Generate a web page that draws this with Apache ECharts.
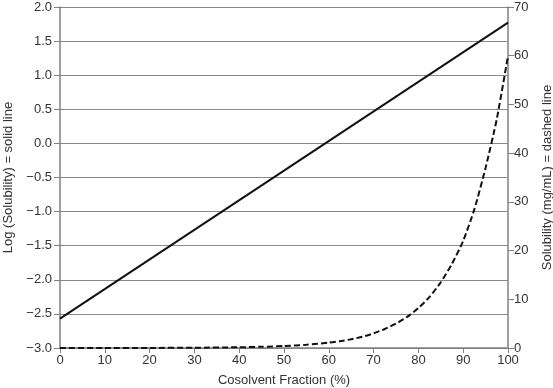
<!DOCTYPE html>
<html><head><meta charset="utf-8">
<script src="https://cdn.jsdelivr.net/npm/echarts@6/dist/echarts.min.js"></script>
<style>html,body{margin:0;padding:0;background:#fff}#c{width:553px;height:388px}</style>
</head><body><div id="c"></div>
<script>
const xTicks = [0,10,20,30,40,50,60,70,80,90,100];
const logX = [0, 100];
const logSolubility = [-2.57, 1.77];
const solX = [0,10,20,30,40,45,50,55,60,62.5,65,67.5,70,72.5,75,77.5,80,82.5,85,87.5,90,92.5,95,97.5,100];
const solubility = [0.003,0.01,0.02,0.05,0.15,0.25,0.4,0.66,1.1,1.4,1.8,2.3,3.0,3.9,5.0,6.4,8.2,10.5,13.5,17.3,22,28.5,37,47,60];

const font = 'Liberation Sans, Arial, sans-serif';
const gray = '#808080';
const txt = '#333';
const chart = echarts.init(document.getElementById('c'));
chart.setOption({
  animation:false,
  grid:{left:60,right:45,top:7,bottom:40,containLabel:false,outerBoundsMode:'none'},
  xAxis:{type:'value',min:0,max:100,interval:10,
    name:'Cosolvent Fraction (%)',nameLocation:'middle',nameGap:26,
    nameTextStyle:{fontFamily:font,fontSize:13,color:txt},
    axisLine:{onZero:false,lineStyle:{color:gray,width:1.5}},
    axisTick:{show:true,length:5,lineStyle:{color:gray}},
    axisLabel:{fontFamily:font,fontSize:13,color:txt,margin:6},
    splitLine:{show:false}},
  yAxis:[
   {type:'value',min:-3,max:2,interval:0.5,position:'left',
    name:'Log (Solubility) = solid line',nameLocation:'middle',nameGap:45,nameRotate:90,
    nameTextStyle:{fontFamily:font,fontSize:13,color:txt},
    axisLine:{show:true,onZero:false,lineStyle:{color:gray,width:1.5}},
    axisTick:{show:true,length:6,lineStyle:{color:gray}},
    axisLabel:{fontFamily:font,fontSize:13,color:txt,margin:8,
      formatter:v=>(v<0?'\u2212':'')+Math.abs(v).toFixed(1)},
    splitLine:{show:true,lineStyle:{color:'#8a8a8a',width:1.2}}},
   {type:'value',min:0,max:70,interval:10,position:'right',
    name:'Solubility (mg/mL) = dashed line',nameLocation:'middle',nameGap:33,nameRotate:90,
    nameTextStyle:{fontFamily:font,fontSize:13,color:txt},
    axisLine:{show:true,onZero:false,lineStyle:{color:gray,width:1.5}},
    axisTick:{show:true,length:6,lineStyle:{color:gray}},
    axisLabel:{fontFamily:font,fontSize:13,color:txt,margin:6},
    splitLine:{show:false}}
  ],
  series:[
   {type:'line',yAxisIndex:0,data:logX.map((x,i)=>[x,logSolubility[i]]),
    showSymbol:false,lineStyle:{color:'#111',width:2}},
   {type:'line',yAxisIndex:1,data:solX.map((x,i)=>[x,solubility[i]]),
    showSymbol:false,smooth:0.2,
    lineStyle:{color:'#111',width:2,type:[6,3]}}
  ]
});
</script></body></html>
